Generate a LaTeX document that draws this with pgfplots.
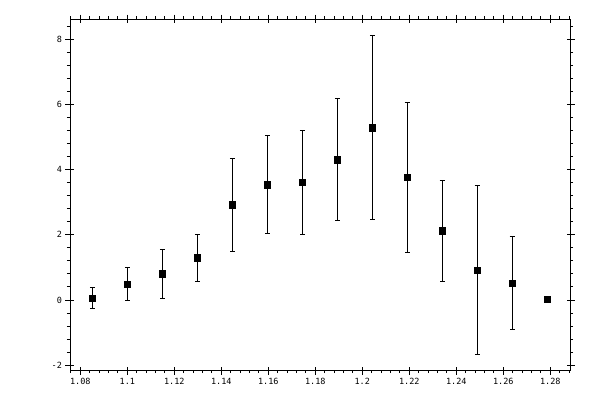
\documentclass[border=0pt]{standalone}
\usepackage{pgfplots}
\pgfplotsset{compat=1.18}
\usepackage{fontspec}
\setmainfont{DejaVu Sans Mono}

% measured points: x, y, symmetric y error
\pgfplotstableread{
x y e
1.0851 0.06 0.32
1.1000 0.49 0.50
1.1149 0.80 0.76
1.1298 1.29 0.72
1.1447 2.92 1.42
1.1596 3.54 1.51
1.1745 3.61 1.60
1.1894 4.31 1.87
1.2043 5.29 2.83
1.2191 3.76 2.30
1.2340 2.12 1.55
1.2489 0.92 2.59
1.2638 0.52 1.42
1.2787 0.03 0.00
}\data

\pgfplotsset{
  frame/.style={
    at={(70pt,30pt)}, anchor=south west,
    scale only axis, width=500pt, height=351pt,
    xmin=1.0756, xmax=1.2884, ymin=-2.145, ymax=8.615,
    xtick={1.08,1.1,1.12,1.14,1.16,1.18,1.2,1.22,1.24,1.26,1.28},
    ytick={-2,0,2,4,6,8},
    axis line style={line width=1pt},
    every tick/.style={black, line width=1pt},
    tick pos=both,
  },
}

\begin{document}
\begin{tikzpicture}
\path[use as bounding box] (0,0) rectangle (600pt,400pt);
\begin{axis}[frame,
    xticklabels={1.08,1.1,1.12,1.14,1.16,1.18,1.2,1.22,1.24,1.26,1.28},
    yticklabels={-2,0,2,4,6,8},
    xticklabel pos=lower, yticklabel pos=left,
    ticklabel style={font=\fontsize{8.5}{10}\selectfont},
    minor xtick={1.076,1.08,...,1.2882},
    minor ytick={-2,-1.6,...,8.5},
    tick align=outside,
    major tick length=4.5pt, minor tick length=3pt,
  ]
  \addplot[only marks, mark=square*, mark size=3.3pt, black,
    error bars/.cd, y dir=both, y explicit,
    error bar style={line width=1pt},
    error mark options={rotate=90, mark size=2.5pt, line width=1pt}]
    table[x=x, y=y, y error=e] {\data};
\end{axis}
\begin{axis}[frame,
    xticklabels={}, yticklabels={},
    tick align=inside, major tick length=3.5pt,
  ]
\end{axis}
\end{tikzpicture}
\end{document}
